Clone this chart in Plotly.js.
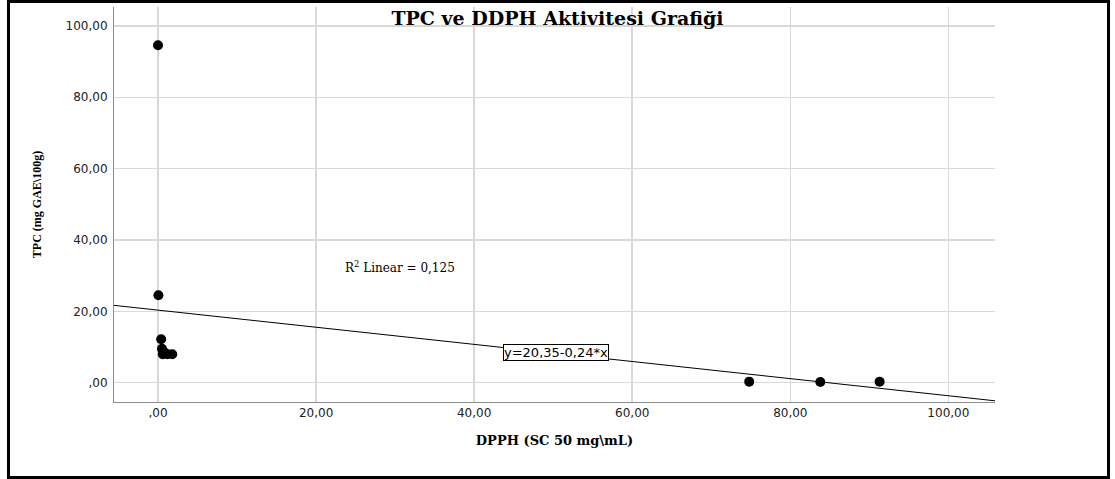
<!DOCTYPE html>
<html><head><meta charset="utf-8">
<script src="https://cdn.plot.ly/plotly-3.0.1.min.js"></script>
<style>
body{margin:0;background:#fff;}
#wrap{position:relative;width:1115px;height:479px;overflow:hidden;}
#chart{width:1115px;height:479px;}
#frame{position:absolute;left:7px;top:0px;width:1097px;height:473px;border:3px solid #000;pointer-events:none;}
</style></head>
<body><div id="wrap"><div id="chart"></div><div id="frame"></div></div>
<script>
const dpph = [0.0, 0.05, 0.4, 0.5, 0.8, 0.6, 1.2, 1.8, 74.8, 83.8, 91.3];
const tpc  = [94.6, 24.5, 12.2, 9.5, 8.5, 8.0, 8.0, 8.0, 0.3, 0.2, 0.3];
const fitIntercept = 20.35;
const fitSlope = -0.24;
const xTickVals = [0, 20, 40, 60, 80, 100];
const xTickText = [",00", "20,00", "40,00", "60,00", "80,00", "100,00"];
const yTickVals = [0, 20, 40, 60, 80, 100];
const yTickText = [",00", "20,00", "40,00", "60,00", "80,00", "100,00"];

const xRange = [-5.57, 105.9];
const yRange = [-5.4, 105.3];
const lineX = [xRange[0], xRange[1]];
const lineY = lineX.map(x => fitIntercept + fitSlope * x);

const traces = [
  {x: lineX, y: lineY, mode: 'lines', line: {color: '#000', width: 1}, hoverinfo: 'skip'},
  {x: dpph, y: tpc, mode: 'markers', marker: {color: '#000', size: 10}}
];
const axFont = {family: 'DejaVu Sans, sans-serif', size: 12, color: '#222'};
const serifB = 'DejaVu Serif, serif';
const layout = {
  width: 1115, height: 479,
  margin: {l: 114, r: 120, t: 7, b: 77},
  showlegend: false,
  paper_bgcolor: '#fff', plot_bgcolor: '#fff',
  title: {text: '<b>TPC ve DDPH Aktivitesi Grafiği</b>', font: {family: serifB, size: 19, color: '#000'}, x: 0.5, xanchor: 'center', y: 0.975, yanchor: 'top'},
  xaxis: {range: xRange, tickvals: xTickVals, ticktext: xTickText, showgrid: true, gridcolor: '#d9d9d9', gridwidth: 1.5,
    zeroline: false, showline: true, linecolor: '#8c8c8c', linewidth: 1, ticks: '', tickfont: axFont,
    title: {text: '<b>DPPH (SC 50 mg\\mL)</b>', font: {family: serifB, size: 13, color: '#000'}, standoff: 16}},
  yaxis: {range: yRange, tickvals: yTickVals, ticktext: yTickText, showgrid: true, gridcolor: '#d9d9d9', gridwidth: 1.5,
    zeroline: false, showline: true, linecolor: '#8c8c8c', linewidth: 1, ticks: '', tickfont: axFont, ticklabelstandoff: 3,
    title: {text: '<b>TPC (mg GAE\\100g)</b>', font: {family: 'Liberation Serif, Times New Roman, serif', size: 12, color: '#000'}, standoff: 21}},
  annotations: [
    {x: 30.6, y: 32.4, xref: 'x', yref: 'y', text: 'R<sup>2</sup> Linear = 0,125', showarrow: false,
     font: {family: serifB, size: 12, color: '#000'}},
    {x: 50.3, y: 8.4, xref: 'x', yref: 'y', text: 'y=20,35-0,24*x', showarrow: false,
     font: {family: 'DejaVu Sans, sans-serif', size: 13, color: '#000'},
     bgcolor: '#fff', bordercolor: '#000', borderwidth: 1, borderpad: 0}
  ]
};
Plotly.newPlot('chart', traces, layout, {displayModeBar: false, staticPlot: true});
</script></body></html>
